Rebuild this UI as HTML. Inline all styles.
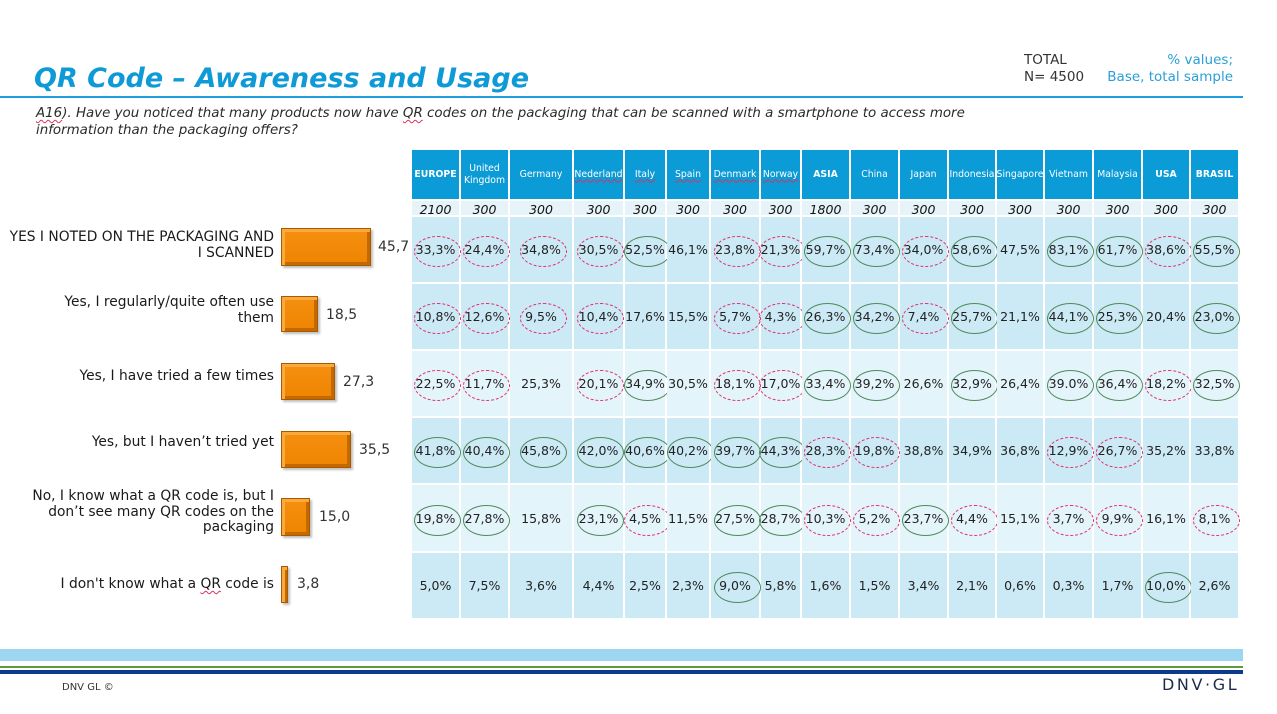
<!DOCTYPE html>
<html>
<head>
<meta charset="utf-8">
<style>
*{margin:0;padding:0;box-sizing:border-box}
html,body{width:1277px;height:714px;overflow:hidden;background:#fff}
body{position:relative;font-family:"DejaVu Sans","Liberation Sans",sans-serif;color:#222}
.abs{position:absolute;white-space:nowrap}
.title{left:34px;top:63px;font-size:27px;line-height:32px;font-weight:bold;font-style:italic;color:#0e9ad7}
.hline{left:0;top:96px;width:1243px;height:2px;background:#1a9fe0}
.q{left:36px;top:105px;font-size:13.4px;line-height:17px;font-style:italic;color:#2a2a2a}
.sp{text-decoration:underline wavy #e0305a;text-decoration-thickness:1px;text-underline-offset:2px}
.tot{left:1024px;top:52px;font-size:13.5px;line-height:17px;color:#333}
.pv{right:44px;top:52px;font-size:13.5px;line-height:17px;color:#2a9fd6;text-align:right}
.lab{right:1003px;font-size:13.8px;line-height:16px;text-align:right;color:#1a1a1a}
.bar{position:absolute;left:281px;background:linear-gradient(#f59010,#ef8400);border:1px solid #a85a00;box-shadow:inset 3px 3px 0 #f9a93e,inset -3px -3px 0 #c46800,2px 2px 2px rgba(0,0,0,.25)}
.bv{font-size:14px;line-height:18px;color:#333}
.grid{position:absolute;left:412px;top:150px;display:grid;grid-template-columns:47px 47px 62px 49px 40px 42px 48px 39px 47px 47px 47px 46px 46px 47px 47px 46px 47px;grid-template-rows:49px 14px 65px 65px 65px 65px 66px 65px;column-gap:2px;row-gap:2px;background:#fff}
.rw{display:contents}
.c{position:relative;display:flex;align-items:center;justify-content:center;white-space:nowrap;font-size:12.5px;color:#222}
.h>.c{background:#0b9bd6;color:#fff;font-size:9.3px;line-height:12px;text-align:center}
.h>.c.b{font-weight:bold}
.bs>.c{background:#e6f4fa;font-style:italic;font-size:12.5px;color:#111;padding-top:2px}
.d>.c{background:#cceaf6}
.l>.c{background:#e4f4fb}
.u{text-decoration:underline wavy #e0305a;text-decoration-thickness:1px;text-underline-offset:2px}
.r::after,.g::after{content:"";position:absolute;left:50%;top:50%;width:45px;height:29px;margin:-13.5px 0 0 -21.5px;border-radius:50%}
.r::after{border:1.5px dashed #e2306a}
.g::after{border:1.4px solid #4f8a5c}
.fb{left:0;top:649px;width:1243px;height:12px;background:#9dd6f0}
.fg{left:0;top:666px;width:1243px;height:2px;background:#5a9e3c}
.fn{left:0;top:670px;width:1243px;height:4px;background:#0d3a8a}
.copy{left:62px;top:682px;font-size:10px;line-height:12px;color:#333}
.logo{left:1162px;top:676px;font-size:16px;line-height:18px;letter-spacing:2.6px;font-weight:normal;color:#1d2b4f}
</style>
</head>
<body>
<div class="abs title">QR Code – Awareness and Usage</div>
<div class="abs hline"></div>
<div class="abs q"><span class="sp">A16</span>). Have you noticed that many products now have <span class="sp">QR</span> codes on the packaging that can be scanned with a smartphone to access more<br>information than the packaging offers?</div>
<div class="abs tot">TOTAL<br>N= 4500</div>
<div class="abs pv">% values;<br>Base, total sample</div>

<div class="abs lab" style="top:229px">YES I NOTED ON THE PACKAGING AND<br>I SCANNED</div>
<div class="abs lab" style="top:294px">Yes, I regularly/quite often use<br>them</div>
<div class="abs lab" style="top:368px">Yes, I have tried a few times</div>
<div class="abs lab" style="top:434px">Yes, but I haven’t tried yet</div>
<div class="abs lab" style="top:489px;line-height:15.5px">No, I know what a QR code is, but I<br>don’t see many QR codes on the<br>packaging</div>
<div class="abs lab" style="top:576px">I don't know what a <span class="sp">QR</span> code is</div>

<div class="bar" style="top:228px;width:90px;height:38px"></div>
<div class="bar" style="top:296px;width:37px;height:36px"></div>
<div class="bar" style="top:363px;width:54px;height:37px"></div>
<div class="bar" style="top:431px;width:70px;height:37px"></div>
<div class="bar" style="top:498px;width:29px;height:38px"></div>
<div class="bar" style="top:566px;width:7px;height:37px"></div>

<div class="abs bv" style="left:378px;top:238px">45,7</div>
<div class="abs bv" style="left:326px;top:306px">18,5</div>
<div class="abs bv" style="left:343px;top:373px">27,3</div>
<div class="abs bv" style="left:359px;top:441px">35,5</div>
<div class="abs bv" style="left:319px;top:508px">15,0</div>
<div class="abs bv" style="left:297px;top:575px">3,8</div>

<div class="grid">
<div class="rw h">
<div class="c b">EUROPE</div><div class="c">United<br>Kingdom</div><div class="c">Germany</div><div class="c"><span class="u">Nederland</span></div><div class="c"><span class="u">Italy</span></div><div class="c"><span class="u">Spain</span></div><div class="c"><span class="u">Denmark</span></div><div class="c"><span class="u">Norway</span></div><div class="c b">ASIA</div><div class="c">China</div><div class="c">Japan</div><div class="c">Indonesia</div><div class="c">Singapore</div><div class="c">Vietnam</div><div class="c">Malaysia</div><div class="c b">USA</div><div class="c b">BRASIL</div>
</div>
<div class="rw bs">
<div class="c">2100</div><div class="c">300</div><div class="c">300</div><div class="c">300</div><div class="c">300</div><div class="c">300</div><div class="c">300</div><div class="c">300</div><div class="c">1800</div><div class="c">300</div><div class="c">300</div><div class="c">300</div><div class="c">300</div><div class="c">300</div><div class="c">300</div><div class="c">300</div><div class="c">300</div>
</div>
<div class="rw d">
<div class="c r">33,3%</div><div class="c r">24,4%</div><div class="c r">34,8%</div><div class="c r">30,5%</div><div class="c g">52,5%</div><div class="c">46,1%</div><div class="c r">23,8%</div><div class="c r">21,3%</div><div class="c g">59,7%</div><div class="c g">73,4%</div><div class="c r">34,0%</div><div class="c g">58,6%</div><div class="c">47,5%</div><div class="c g">83,1%</div><div class="c g">61,7%</div><div class="c r">38,6%</div><div class="c g">55,5%</div>
</div>
<div class="rw d">
<div class="c r">10,8%</div><div class="c r">12,6%</div><div class="c r">9,5%</div><div class="c r">10,4%</div><div class="c">17,6%</div><div class="c">15,5%</div><div class="c r">5,7%</div><div class="c r">4,3%</div><div class="c g">26,3%</div><div class="c g">34,2%</div><div class="c r">7,4%</div><div class="c g">25,7%</div><div class="c">21,1%</div><div class="c g">44,1%</div><div class="c g">25,3%</div><div class="c">20,4%</div><div class="c g">23,0%</div>
</div>
<div class="rw l">
<div class="c r">22,5%</div><div class="c r">11,7%</div><div class="c">25,3%</div><div class="c r">20,1%</div><div class="c g">34,9%</div><div class="c">30,5%</div><div class="c r">18,1%</div><div class="c r">17,0%</div><div class="c g">33,4%</div><div class="c g">39,2%</div><div class="c">26,6%</div><div class="c g">32,9%</div><div class="c">26,4%</div><div class="c g">39.0%</div><div class="c g">36,4%</div><div class="c r">18,2%</div><div class="c g">32,5%</div>
</div>
<div class="rw d">
<div class="c g">41,8%</div><div class="c g">40,4%</div><div class="c g">45,8%</div><div class="c g">42,0%</div><div class="c g">40,6%</div><div class="c g">40,2%</div><div class="c g">39,7%</div><div class="c g">44,3%</div><div class="c r">28,3%</div><div class="c r">19,8%</div><div class="c">38,8%</div><div class="c">34,9%</div><div class="c">36,8%</div><div class="c r">12,9%</div><div class="c r">26,7%</div><div class="c">35,2%</div><div class="c">33,8%</div>
</div>
<div class="rw l">
<div class="c g">19,8%</div><div class="c g">27,8%</div><div class="c">15,8%</div><div class="c g">23,1%</div><div class="c r">4,5%</div><div class="c">11,5%</div><div class="c g">27,5%</div><div class="c g">28,7%</div><div class="c r">10,3%</div><div class="c r">5,2%</div><div class="c g">23,7%</div><div class="c r">4,4%</div><div class="c">15,1%</div><div class="c r">3,7%</div><div class="c r">9,9%</div><div class="c">16,1%</div><div class="c r">8,1%</div>
</div>
<div class="rw d">
<div class="c">5,0%</div><div class="c">7,5%</div><div class="c">3,6%</div><div class="c">4,4%</div><div class="c">2,5%</div><div class="c">2,3%</div><div class="c g">9,0%</div><div class="c">5,8%</div><div class="c">1,6%</div><div class="c">1,5%</div><div class="c">3,4%</div><div class="c">2,1%</div><div class="c">0,6%</div><div class="c">0,3%</div><div class="c">1,7%</div><div class="c g">10,0%</div><div class="c">2,6%</div>
</div>
</div>

<div class="abs fb"></div>
<div class="abs fg"></div>
<div class="abs fn"></div>
<div class="abs copy">DNV GL ©</div>
<div class="abs logo">DNV·GL</div>
</body>
</html>
